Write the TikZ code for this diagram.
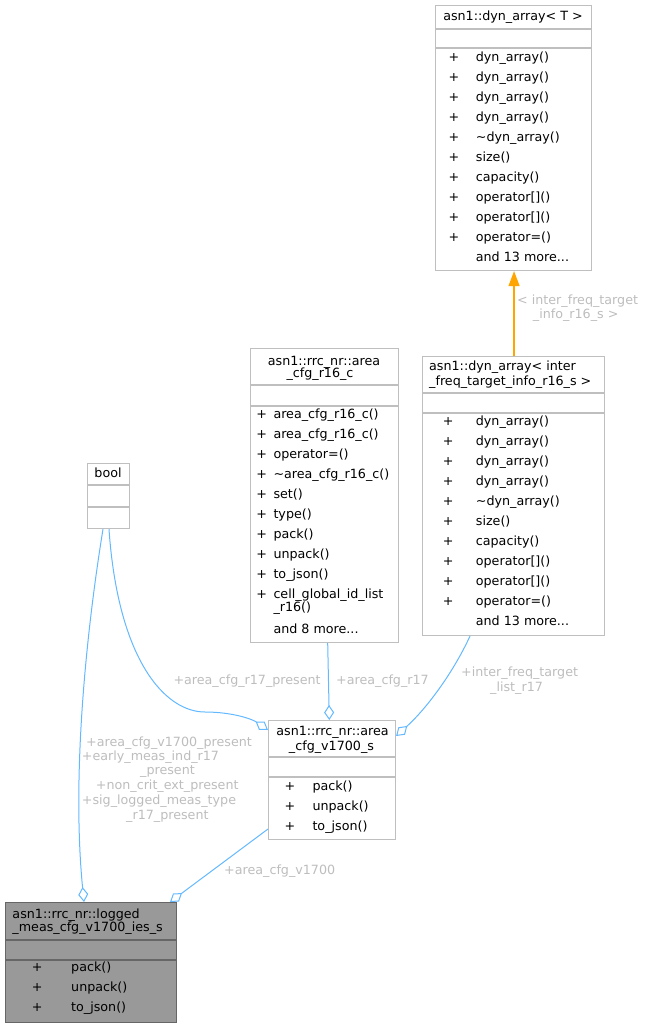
\documentclass[tikz,border=0pt]{standalone}
\usepackage{fontspec}
\setmainfont{DejaVu Sans}
\usetikzlibrary{arrows.meta}
\definecolor{edgeblue}{HTML}{63B8FF}
\definecolor{lblgray}{HTML}{BDBDBD}
\definecolor{boxgray}{HTML}{BFBFBF}
\definecolor{darkfill}{HTML}{999999}
\definecolor{darkborder}{HTML}{666666}
\definecolor{inhorange}{HTML}{FFA500}
\tikzset{
 txt/.style={font=\fontsize{12.7}{14}\selectfont, inner sep=0pt, text height=9.5pt, text depth=2.7pt},
 lbl/.style={txt, text=lblgray, anchor=west},
 mem/.style={txt, anchor=west},
 ttl/.style={txt},
 umlbox/.style={draw=boxgray, line width=1.1pt, fill=white, inner sep=0pt, anchor=north west},
 darkbox/.style={umlbox, draw=darkborder, fill=darkfill},
 sep/.style={draw=boxgray, line width=1.1pt},
 darksep/.style={draw=darkborder, line width=1.1pt},
 assoc/.style={color=edgeblue, line width=1pt, -{Diamond[open, length=15pt, width=10pt]}},
 inhline/.style={draw=inhorange, fill=inhorange, line width=1.2pt, -{Triangle[length=15pt, width=11pt, fill=inhorange]}},
}
\begin{document}
\begin{tikzpicture}[x=1pt,y=-1pt]
\useasboundingbox (0,0) rectangle (648,1028);

% ---- dyn_array<T>
\node[umlbox, minimum width=156pt, minimum height=265pt] (b1) at (435,5) {};
\draw[sep] (435,29) -- (591,29);
\draw[sep] (435,48) -- (591,48);
\node[ttl] (b1t) at (513,17.3) {asn1::dyn\_array< T >};
\foreach \n [count=\i from 0] in {{dyn\_array()},{dyn\_array()},{dyn\_array()},{dyn\_array()},{\textasciitilde dyn\_array()},{size()},{capacity()},{operator[]()},{operator[]()},{operator=()}}{
  \node[ttl] (b1p\i) at (454,58.3+20*\i) {+};
  \node[mem] (b1m\i) at (475.7,58.3+20*\i) {\n};
}
\node[mem] (b1more) at (475.7,258.3) {and 13 more...};

% ---- dyn_array<inter_freq_target_info_r16_s>
\node[umlbox, minimum width=182pt, minimum height=279pt] (b3) at (422,356) {};
\draw[sep] (422,393) -- (604,393);
\draw[sep] (422,413) -- (604,413);
\node[mem] (b3t1) at (429,367.3) {asn1::dyn\_array< inter};
\node[mem] (b3t2) at (429,381.7) {\_freq\_target\_info\_r16\_s >};
\foreach \n [count=\i from 0] in {{dyn\_array()},{dyn\_array()},{dyn\_array()},{dyn\_array()},{\textasciitilde dyn\_array()},{size()},{capacity()},{operator[]()},{operator[]()},{operator=()}}{
  \node[ttl] (b3p\i) at (448.3,421.7+20*\i) {+};
  \node[mem] (b3m\i) at (475.7,421.7+20*\i) {\n};
}
\node[mem] (b3more) at (475.7,621.7) {and 13 more...};

% ---- area_cfg_r16_c
\node[umlbox, minimum width=148pt, minimum height=294pt] (b2) at (250,348) {};
\draw[sep] (250,385) -- (398,385);
\draw[sep] (250,406) -- (398,406);
\node[ttl] (b2t1) at (324,361.7) {asn1::rrc\_nr::area};
\node[ttl] (b2t2) at (320,374.3) {\_cfg\_r16\_c};
\foreach \n [count=\i from 0] in {{area\_cfg\_r16\_c()},{area\_cfg\_r16\_c()},{operator=()},{\textasciitilde area\_cfg\_r16\_c()},{set()},{type()},{pack()},{unpack()},{to\_json()},{cell\_global\_id\_list}}{
  \node[ttl] (b2p\i) at (261.7,415+20*\i) {+};
  \node[mem] (b2m\i) at (273.3,415+20*\i) {\n};
}
\node[mem] (b2m10) at (273.3,608) {\_r16()};
\node[mem] (b2more) at (273.3,630) {and 8 more...};

% ---- bool
\node[umlbox, minimum width=42pt, minimum height=65pt] (bool) at (87,463) {};
\draw[sep] (87,485) -- (129,485);
\draw[sep] (87,507) -- (129,507);
\node[ttl] (boolt) at (108,474.3) {bool};

% ---- area_cfg_v1700_s
\node[umlbox, minimum width=127pt, minimum height=119pt] (b4) at (268,720) {};
\draw[sep] (268,757) -- (395,757);
\draw[sep] (268,777) -- (395,777);
\node[ttl] (b4t1) at (332.5,731.7) {asn1::rrc\_nr::area};
\node[ttl] (b4t2) at (331.5,746.7) {\_cfg\_v1700\_s};
\foreach \n [count=\i from 0] in {{pack()},{unpack()},{to\_json()}}{
  \node[ttl] (b4p\i) at (290,786.7+20*\i) {+};
  \node[mem] (b4m\i) at (312.3,786.7+20*\i) {\n};
}

% ---- logged_meas_cfg_v1700_ies_s
\node[darkbox, minimum width=171pt, minimum height=120pt] (b5) at (5,902) {};
\draw[darksep] (5,940) -- (176,940);
\draw[darksep] (5,960) -- (176,960);
\node[mem] (b5t1) at (12.3,915) {asn1::rrc\_nr::logged};
\node[mem] (b5t2) at (12.3,928.3) {\_meas\_cfg\_v1700\_ies\_s};
\foreach \n [count=\i from 0] in {{pack()},{unpack()},{to\_json()}}{
  \node[ttl] (b5p\i) at (37.3,968.3+20*\i) {+};
  \node[mem] (b5m\i) at (71,968.3+20*\i) {\n};
}

% ---- connectors
\draw[inhline] ([xshift=0.5pt]b3.north) -- ([xshift=0.5pt]b1.south);
\node[lbl] (l1a) at (517,300.7) {< inter\_freq\_target};
\node[lbl] (l1b) at (532.7,315) {\_info\_r16\_s >};

\draw[assoc] ([xshift=77.7pt]b2.south west) -- ([xshift=61.3pt]b4.north west);
\node[lbl] (l2) at (336,680.7) {+area\_cfg\_r17};

\draw[assoc] ([xshift=22pt]bool.south west) .. controls (118,660) and (165,712) .. (205,712)
  .. controls (232,712) and (252,719) .. ([yshift=-10pt]b4.north west);
\node[lbl] (l3) at (173.3,680.7) {+area\_cfg\_r17\_present};

\draw[assoc] ([xshift=48pt]b3.south west) .. controls (452,675) and (425,710) .. ([yshift=-16pt]b4.north east);
\node[lbl] (l4a) at (461,672.7) {+inter\_freq\_target};
\node[lbl] (l4b) at (490,687.7) {\_list\_r17};

\draw[assoc] ([xshift=16pt]bool.south west) .. controls (85,640) and (72,780) .. ([xshift=79pt]b5.north west);
\node[lbl] (l5a) at (86,742.7) {+area\_cfg\_v1700\_present};
\node[lbl] (l5b) at (81.7,756.7) {+early\_meas\_ind\_r17};
\node[lbl] (l5c) at (140,771.3) {\_present};
\node[lbl] (l5d) at (95.7,786.3) {+non\_crit\_ext\_present};
\node[lbl] (l5e) at (81.7,800.7) {+sig\_logged\_meas\_type};
\node[lbl] (l5f) at (126,815.7) {\_r17\_present};

\draw[assoc] ([yshift=-109pt]b4.north west) -- ([xshift=165pt]b5.north west);
\node[lbl] (l6) at (224,870.7) {+area\_cfg\_v1700};
\end{tikzpicture}
\end{document}
